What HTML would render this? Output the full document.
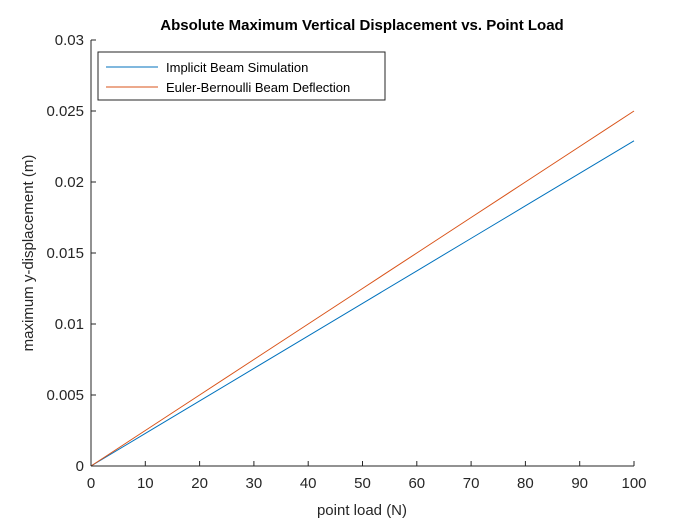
<!DOCTYPE html>
<html><head><meta charset="utf-8"><style>
body{margin:0;background:#fff;}
svg{display:block;font-family:"Liberation Sans",Arial,sans-serif;}
</style></head><body>
<svg id="chart" width="700" height="525">
<rect width="700" height="525" fill="#fff"/>
<g id="axes"></g>
</svg>
<script>
const xTicks=[0,10,20,30,40,50,60,70,80,90,100];
const yTicks=[0,0.005,0.01,0.015,0.02,0.025,0.03];
const yTickLabels=["0","0.005","0.01","0.015","0.02","0.025","0.03"];
const loads=[0,10,20,30,40,50,60,70,80,90,100];
const implicitDisp=[0,0.00229,0.00458,0.00687,0.00916,0.01145,0.01374,0.01603,0.01832,0.02061,0.0229];
const eulerDisp=[0,0.0025,0.005,0.0075,0.01,0.0125,0.015,0.0175,0.02,0.0225,0.025];
const L=91,R=634,T=40,B=466;
const xs=v=>L+(v-0)/(100-0)*(R-L);
const ys=v=>B-(v-0)/(0.03-0)*(B-T);
const g=document.getElementById('axes');
const NS="http://www.w3.org/2000/svg";
function mk(tag,attrs,text){const e=document.createElementNS(NS,tag);for(const k in attrs)e.setAttribute(k,attrs[k]);if(text!==undefined)e.textContent=text;g.appendChild(e);return e;}
let p1=mk('polyline',{points:loads.map((x,i)=>xs(x)+','+ys(implicitDisp[i])).join(' '),fill:'none',stroke:'#0072BD','stroke-width':1});


let p2=mk('polyline',{points:loads.map((x,i)=>xs(x)+','+ys(eulerDisp[i])).join(' '),fill:'none',stroke:'#D95319','stroke-width':1});


let xa=mk('line',{x1:L,y1:B,x2:R,y2:B,stroke:'#262626'});


let ya=mk('line',{x1:L,y1:T,x2:L,y2:B,stroke:'#262626'});


xTicks.forEach(v=>{const x=xs(v);
 mk('line',{x1:x,y1:B,x2:x,y2:B-5,stroke:'#262626'});
 let t=mk('text',{x:x,y:B+22,'text-anchor':'middle','font-size':15,fill:'#262626'},String(v));
 
 
});
yTicks.forEach((v,i)=>{const y=ys(v);
 mk('line',{x1:L,y1:y,x2:L+5,y2:y,stroke:'#262626'});
 let t=mk('text',{x:L-7,y:y+5,'text-anchor':'end','font-size':15,fill:'#262626'},yTickLabels[i]);
 
 
});
let ti=mk('text',{x:362,y:30,'text-anchor':'middle','font-size':15,'font-weight':'bold',fill:'#000'},'Absolute Maximum Vertical Displacement vs. Point Load');


let xt=mk('text',{x:362,y:515,'text-anchor':'middle','font-size':15,fill:'#262626'},'point load (N)');


let yt=mk('text',{x:0,y:0,'text-anchor':'middle','font-size':15,fill:'#262626',transform:'translate(33,253) rotate(-90)'},'maximum y-displacement (m)');


let lg=mk('rect',{x:98,y:52,width:287,height:48,fill:'#fff',stroke:'#262626'});


mk('line',{x1:106,y1:67,x2:158,y2:67,stroke:'#0072BD'});
let l1=mk('text',{x:166,y:72,'font-size':13,fill:'#000'},'Implicit Beam Simulation');


mk('line',{x1:106,y1:87,x2:158,y2:87,stroke:'#D95319'});
let l2=mk('text',{x:166,y:92,'font-size':13,fill:'#000'},'Euler-Bernoulli Beam Deflection');


</script>
</body></html>
